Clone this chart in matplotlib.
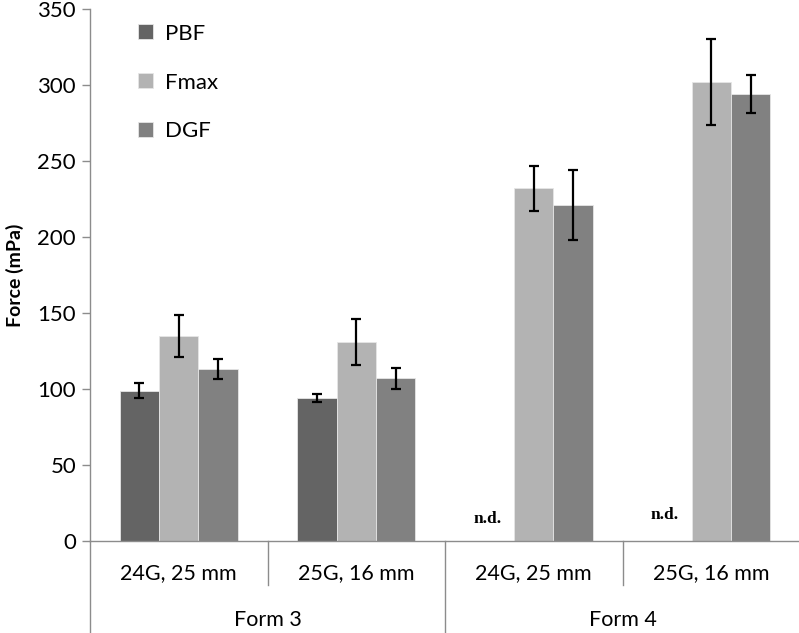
import matplotlib
matplotlib.use("Agg")
import matplotlib.pyplot as plt
import matplotlib.transforms as mtransforms
import numpy as np

# data
subgroups = ["24G, 25 mm", "25G, 16 mm", "24G, 25 mm", "25G, 16 mm"]
forms = ["Form 3", "Form 4"]
series = ["PBF", "Fmax", "DGF"]
pbf = [99, 94, np.nan, np.nan]
pbf_err = [5, 2.8, 0, 0]
fmax = [135, 131, 232, 302]
fmax_err = [14, 15, 15, 28.5]
dgf = [113, 107, 221, 294]
dgf_err = [6.7, 6.7, 23, 12.5]
not_detected = [2, 3]

colors = ["#646464", "#b3b3b3", "#818181"]
axis_gray = "#8c8c8c"

plt.rcParams["font.family"] = ["Lato", "DejaVu Sans"]

fig = plt.figure(figsize=(7.99, 6.33), dpi=100)
ax_h = 532
ax = fig.add_axes([90 / 799, 92 / 633, 710 / 799, ax_h / 633])

x = np.arange(len(subgroups))
w = 0.2215
for i, (vals, errs) in enumerate([(pbf, pbf_err), (fmax, fmax_err), (dgf, dgf_err)]):
    pos = x + (i - 1) * w
    ax.bar(pos, vals, width=w, color=colors[i], edgecolor="#e6e6e6", linewidth=0.6,
           label=series[i], zorder=2)
    vals_arr = np.array(vals, dtype=float)
    ok = ~np.isnan(vals_arr)
    ax.errorbar(pos[ok], vals_arr[ok], yerr=np.array(errs)[ok], fmt="none",
                ecolor="black", elinewidth=1.6, capsize=3.5, capthick=1.6, zorder=3)

for k, idx in enumerate(not_detected):
    ax.text(idx - w - 0.04, 9 + 3 * k, "n.d.", ha="center", va="bottom",
            family="Liberation Serif", fontweight="bold", fontsize=12.5)

ax.set_xlim(-0.5, 3.5)
ax.set_ylim(0, 350)
ax.set_yticks(np.arange(0, 351, 50))
ax.tick_params(axis="y", direction="out", length=6, width=1, color=axis_gray,
               labelsize=16, pad=4)
ax.set_xticks([])
ax.set_ylabel("Force (mPa)", fontweight="bold", fontsize=14, labelpad=10)

for side in ["top", "right"]:
    ax.spines[side].set_visible(False)
for side in ["left", "bottom"]:
    ax.spines[side].set_color(axis_gray)
    ax.spines[side].set_linewidth(1)

# grouped category axis below the plot
trans = mtransforms.blended_transform_factory(ax.transData, ax.transAxes)
y_sub = -44 / ax_h
y_bot = -92 / ax_h
for xb in [-0.5, 1.5]:
    ax.plot([xb, xb], [0, y_bot], color=axis_gray, lw=1, transform=trans, clip_on=False)
for xb in [0.5, 2.5]:
    ax.plot([xb, xb], [0, y_sub], color=axis_gray, lw=1, transform=trans, clip_on=False)
for xi, lab in zip(x, subgroups):
    ax.text(xi, -32 / ax_h, lab, ha="center", va="center", fontsize=15.5, transform=trans)
for j, lab in enumerate(forms):
    ax.text(0.5 + 2 * j, -79 / ax_h, lab, ha="center", va="center", fontsize=15.5,
            transform=trans)

ax.legend(loc="upper left", bbox_to_anchor=(0.04, 1.01), frameon=False, fontsize=16,
          handlelength=0.65, handleheight=0.65, handletextpad=0.55, labelspacing=1.3)

fig.savefig("out.png", dpi=100)
